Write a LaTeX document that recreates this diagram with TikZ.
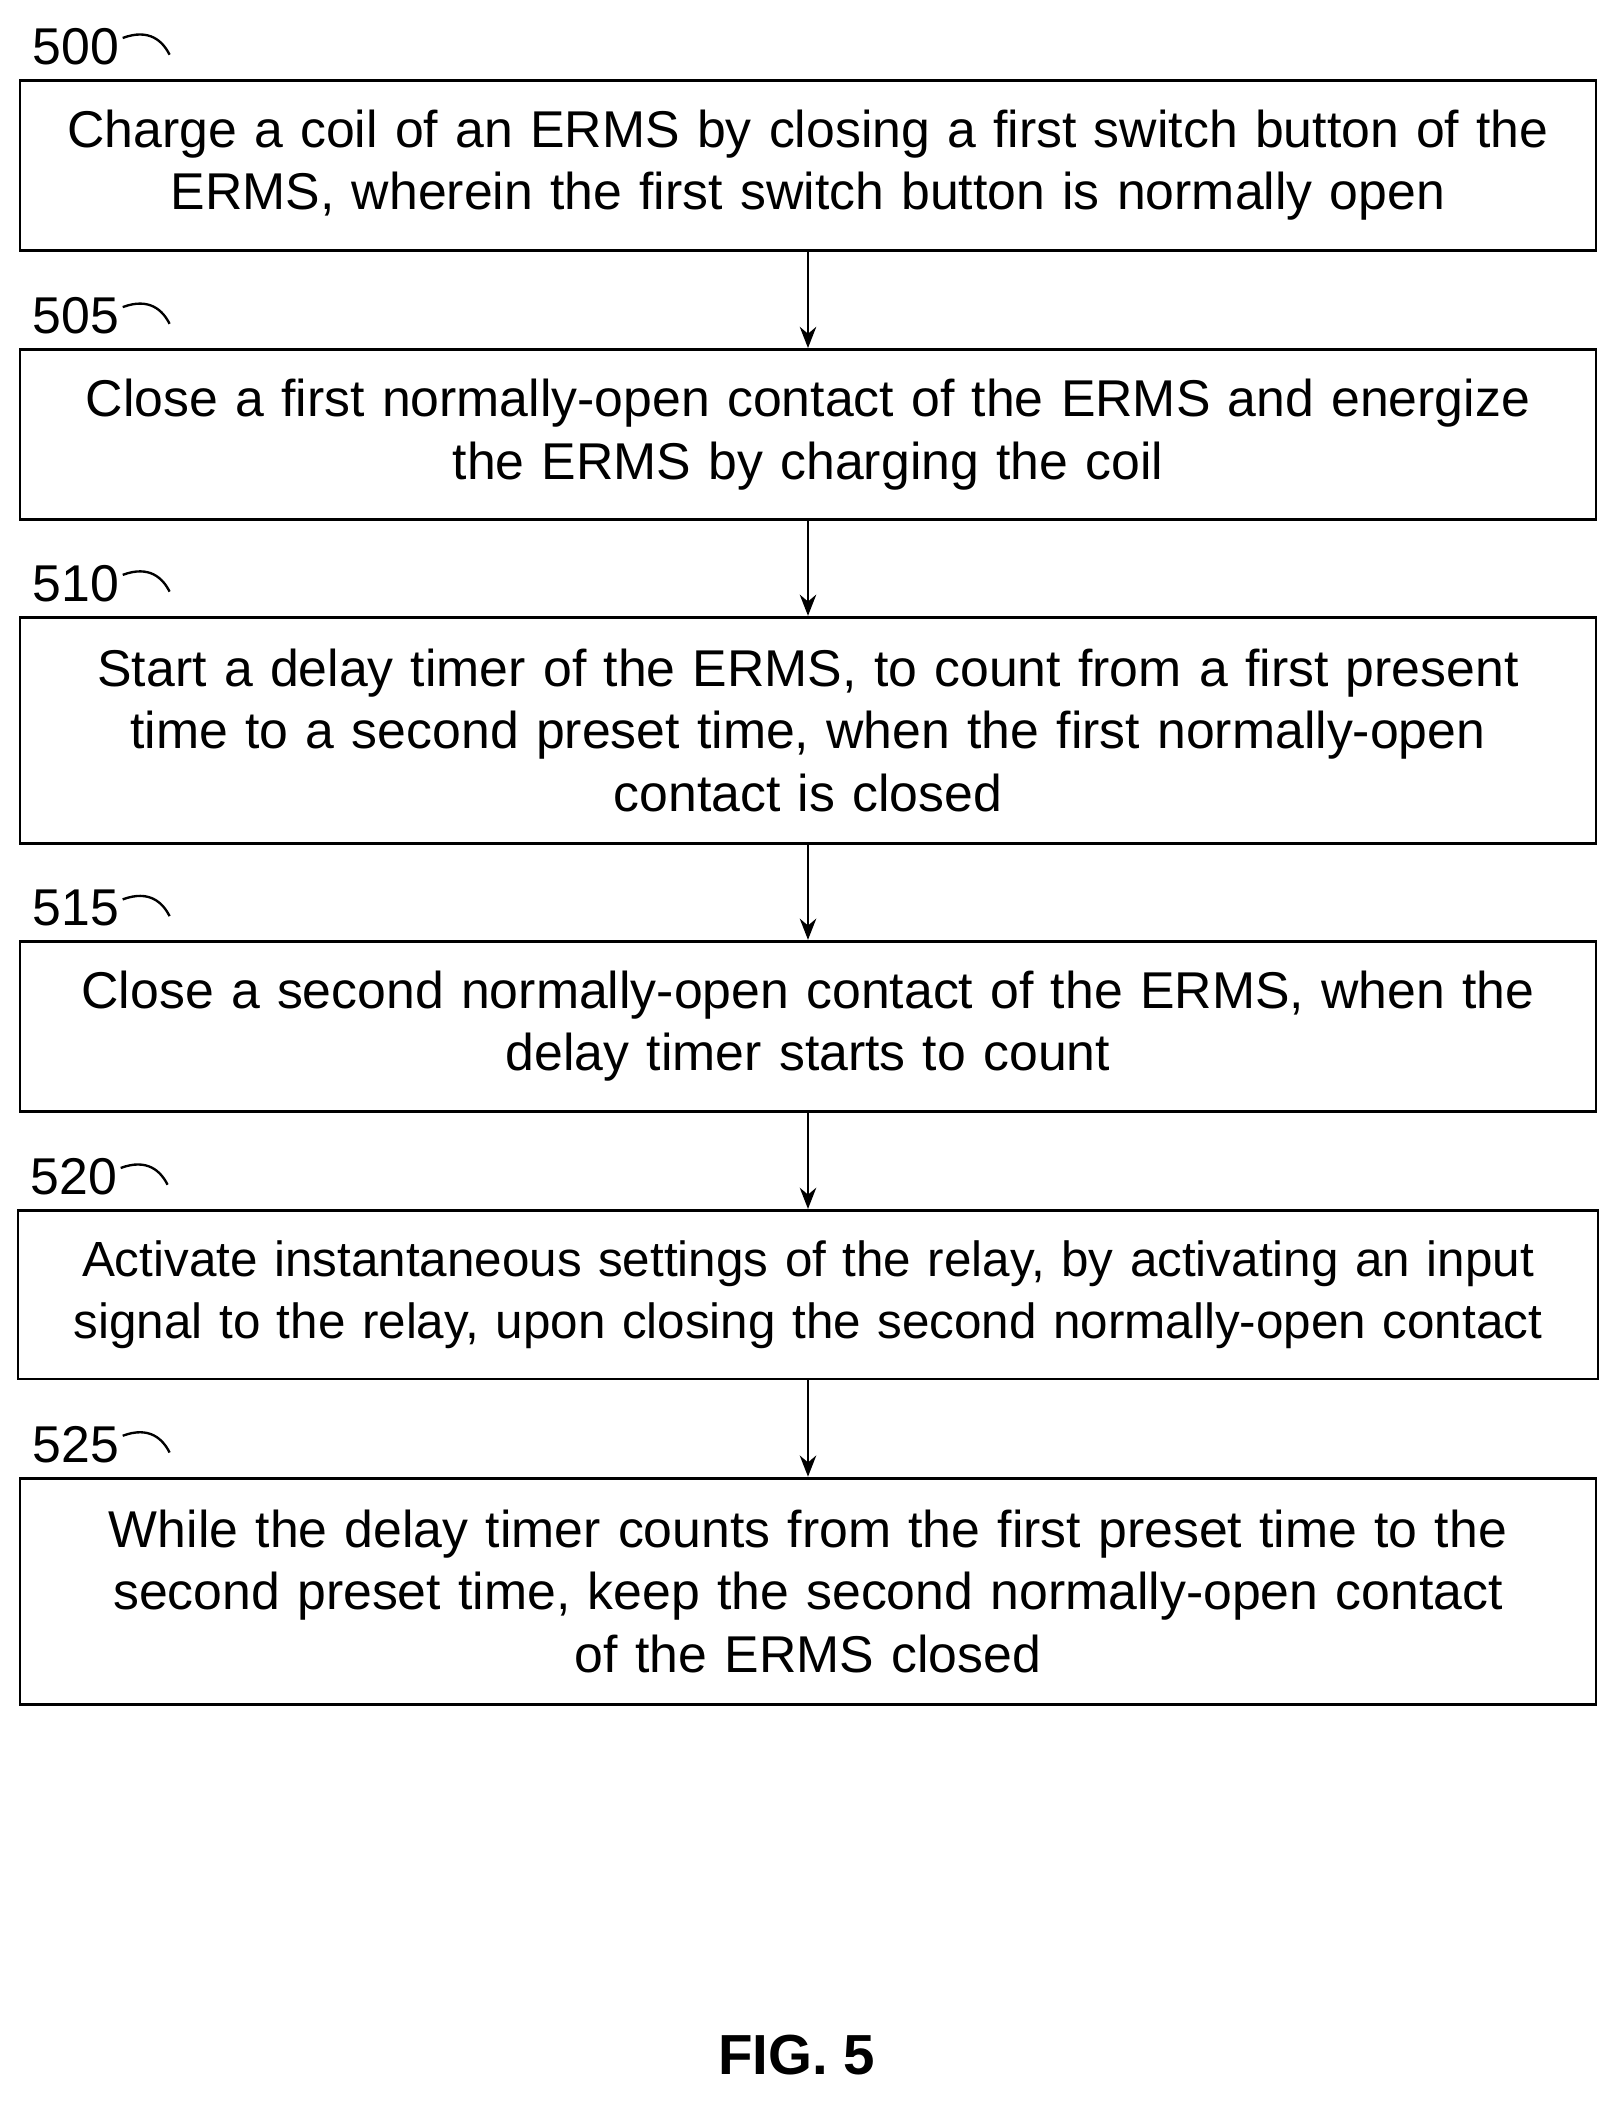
\documentclass[tikz,border=0pt]{standalone}
\usepackage{fontspec}
\setmainfont{Liberation Sans}
\usetikzlibrary{arrows.meta}
\tikzstyle{stepbox}=[rectangle, draw=black, line width=1.2pt, minimum width=23.54cm,
  text width=23.3cm, align=center, inner sep=0pt, font=\fontsize{22}{26.5}\selectfont]
\tikzstyle{num}=[anchor=south west, inner sep=0pt, font=\fontsize{22}{26}\selectfont]
\tikzstyle{flow}=[-{Stealth[length=9pt,width=7pt]}, line width=1pt]
\begin{document}
\begin{tikzpicture}
\useasboundingbox (0,0) rectangle (24.2,-31.4);
\node [stepbox, minimum height=2.54cm] (s500) at (12.07,-2.47) {Charge a coil of an ERMS by closing a first switch button of the\\ERMS, wherein the first switch button is normally open};
\node [stepbox, minimum height=2.54cm] (s505) at (12.07,-6.49) {Close a first normally-open contact of the ERMS and energize\\the ERMS by charging the coil};
\node [stepbox, minimum height=3.38cm] (s510) at (12.07,-10.91) {Start a delay timer of the ERMS, to count from a first present\\time to a second preset time, when the first normally-open\\contact is closed};
\node [stepbox, minimum height=2.54cm] (s515) at (12.07,-15.33) {Close a second normally-open contact of the ERMS, when the\\delay timer starts to count};
\node [stepbox, minimum height=2.52cm, text width=23.6cm, font=\fontsize{21}{26.5}\selectfont] (s520) at (12.07,-19.34) {Activate instantaneous settings of the relay, by activating an input\\signal to the relay, upon closing the second normally-open contact};
\node [stepbox, minimum height=3.38cm] (s525) at (12.07,-23.77) {While the delay timer counts from the first preset time to the\\second preset time, keep the second normally-open contact\\of the ERMS closed};
% step numbers
\foreach \n in {500,505,510,515,520,525}{
  \node [num] (l\n) at ([xshift=0.2cm,yshift=0.2cm]s\n.north west) {\n};
  \draw [line width=1pt] ([xshift=0.05cm,yshift=-0.15cm]l\n.north east) .. controls +(0.4,0.15) and +(-0.1,0.2) .. ([xshift=0.75cm,yshift=-0.4cm]l\n.north east);
}
\draw [flow] (s500) -- (s505);
\draw [flow] (s505) -- (s510);
\draw [flow] (s510) -- (s515);
\draw [flow] (s515) -- (s520);
\draw [flow] (s520) -- (s525);
\node [font=\bfseries\fontsize{24}{28}\selectfont] (fig) at (11.9,-30.7) {FIG. 5};
\end{tikzpicture}
\end{document}
